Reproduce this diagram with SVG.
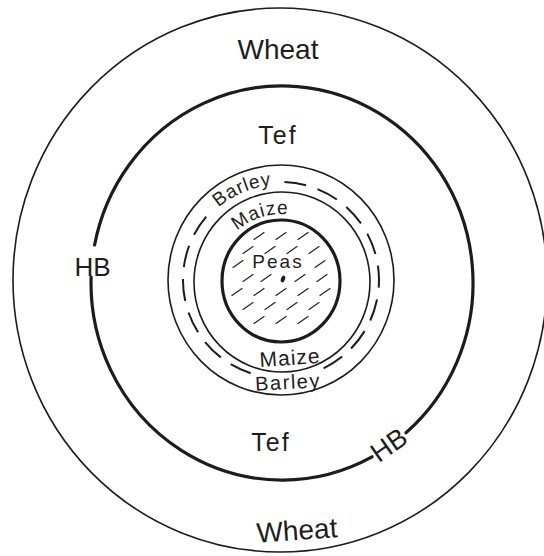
<svg xmlns="http://www.w3.org/2000/svg" width="544" height="556" viewBox="0 0 544 556">
  <style>
    .ln { fill: none; stroke: #1c1c1c; stroke-linecap: round; }
    .thin { stroke-width: 1.6; }
    .thick { stroke-width: 3.2; }
    .dash { stroke-width: 2; stroke-dasharray: 22 12; stroke-linecap: butt; }
    .hatch { stroke: #2a2a2a; stroke-width: 1.3; stroke-linecap: round; fill: none; }
    .lbl { font-family: "Liberation Sans", Arial, sans-serif; fill: #1e1e1e; text-anchor: middle; }
  </style>
  <defs>
    <path id="barleyTop" d="M 207.4 218.6 A 95 95 0 0 1 289.3 185.4"/>
    <path id="maizeTop" d="M 226.3 243.0 A 68 68 0 0 1 299.6 216.3"/>
  </defs>
  <rect width="544" height="556" fill="#ffffff"/>

  <g id="wheat-ring">
    <ellipse class="ln thin" cx="280" cy="280" rx="267" ry="272"/>
    <text class="lbl" x="278" y="59" font-size="28">Wheat</text>
    <text class="lbl" x="297" y="540" font-size="28" transform="rotate(-4 297 532)">Wheat</text>
  </g>

  <g id="tef-ring">
    <path class="ln thick" d="M 91.1 277 A 191 197 0 0 0 372 456.8"/>
    <path class="ln thick" d="M 406 432.8 A 191 197 0 1 0 94.6 245"/>
    <text class="lbl" x="278" y="144" font-size="25" letter-spacing="2">Tef</text>
    <text class="lbl" x="271" y="451" font-size="25" letter-spacing="2">Tef</text>
    <text class="lbl" x="92.5" y="276" font-size="26">HB</text>
    <text class="lbl" x="389" y="454" font-size="27" transform="rotate(-35 389 445)">HB</text>
  </g>

  <g id="barley-ring">
    <ellipse class="ln thin" cx="281" cy="280" rx="113" ry="115"/>
    <path class="ln dash" d="M 284.4 182.1 A 98 98 0 0 1 317.7 370.9"/>
    <path class="ln dash" d="M 250.7 373.2 A 98 98 0 0 1 207.0 215.7"/>
    <text class="lbl" font-size="19" letter-spacing="0.8"><textPath href="#barleyTop" startOffset="45">Barley</textPath></text>
    <text class="lbl" x="288" y="389" font-size="20" letter-spacing="1.5" transform="rotate(-3 288 382)">Barley</text>
  </g>

  <g id="maize-ring">
    <ellipse class="ln thin" cx="282" cy="282" rx="88" ry="90"/>
    <text class="lbl" font-size="19" letter-spacing="1"><textPath href="#maizeTop" startOffset="44">Maize</textPath></text>
    <text class="lbl" x="290" y="365" font-size="21" letter-spacing="1" transform="rotate(-4 290 358)">Maize</text>
  </g>

  <g id="peas-core">
    <ellipse class="ln thick" cx="281" cy="281" rx="59" ry="61"/>
    <path class="hatch" d="M254 239.5 L264 232.5 M276 239.5 L286 232.5 M298 239.5 L308 232.5
      M243 253.5 L253 246.5 M265 253.5 L275 246.5 M287 253.5 L297 246.5 M309 253.5 L319 246.5
      M233 267.5 L243 260.5 M315 267.5 L325 260.5
      M243 281.5 L253 274.5 M261 281.5 L271 274.5 M295 281.5 L305 274.5 M317 281.5 L327 274.5
      M232 295.5 L242 288.5 M254 295.5 L264 288.5 M276 295.5 L286 288.5 M298 295.5 L308 288.5 M320 295.5 L330 288.5
      M243 309.5 L253 302.5 M265 309.5 L275 302.5 M287 309.5 L297 302.5 M309 309.5 L319 302.5
      M254 323.5 L264 316.5 M276 323.5 L286 316.5 M298 323.5 L308 316.5"/>
    <text class="lbl" x="278" y="268" font-size="19" letter-spacing="2">Peas</text>
    <ellipse cx="283" cy="279" rx="2" ry="3.5" fill="#1c1c1c" transform="rotate(20 283 279)"/>
  </g>
</svg>
